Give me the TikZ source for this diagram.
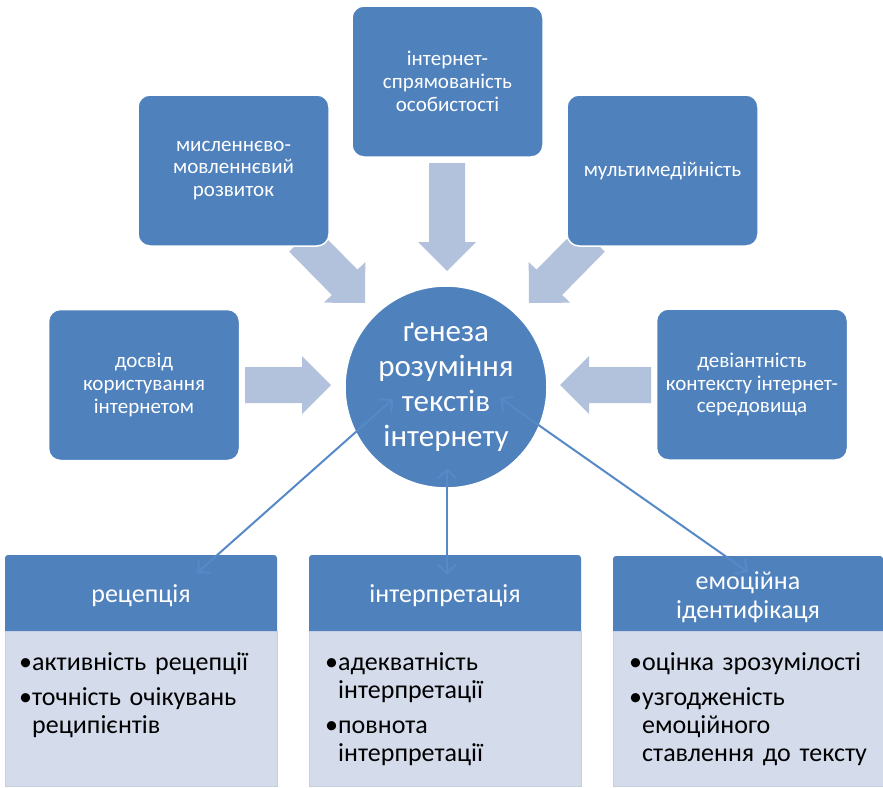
\documentclass[tikz,border=0pt]{standalone}
\usepackage{fontspec}
\setmainfont{Carlito}
\usetikzlibrary{calc,arrows.meta}
\definecolor{boxblue}{RGB}{79,129,189}
\definecolor{connblue}{RGB}{86,137,199}
\definecolor{arrowblue}{RGB}{179,194,220}
\definecolor{bodyfill}{RGB}{212,219,235}
\definecolor{bodyline}{RGB}{196,206,228}
\newcommand\blockarrow[2]{%
  \coordinate (#1hb) at ($(#2)!29pt!(#1)$);
  \fill[arrowblue] ($(#1)!18pt!90:(#2)$) -- ($(#1hb)!18pt!-90:(#1)$) -- ($(#1hb)!29pt!-90:(#1)$) -- (#2)
    -- ($(#1hb)!29pt!90:(#1)$) -- ($(#1hb)!18pt!90:(#1)$) -- ($(#1)!18pt!-90:(#2)$) -- cycle;}
\newcommand\bitem[1]{\par\hangindent=13pt\hangafter=1\noindent\makebox[13pt][l]{•}#1\par}
\begin{document}
\begin{tikzpicture}[x=1pt,y=-1pt,
  box/.style={rectangle, rounded corners=12pt, fill=boxblue, draw=white, line width=1.5pt,
    minimum width=191pt, minimum height=151pt, text=white, align=center, inner sep=0pt,
    font=\fontsize{21}{22.7}\selectfont},
  hub/.style={circle, fill=boxblue, draw=white, line width=1.5pt, minimum size=202pt, inner sep=0pt,
    text=white, align=center, font=\fontsize{31}{35}\selectfont},
  head/.style={rectangle, rounded corners=3pt, fill=boxblue, minimum height=82pt, inner sep=0pt,
    text=white, align=center, font=\fontsize{26}{29}\selectfont},
  bodybox/.style={rectangle, fill=bodyfill, draw=bodyline, line width=1pt, minimum height=155pt, inner sep=0pt},
  bodytext/.style={anchor=north west, inner sep=0pt, text width=252pt,
    font=\fontsize{26}{28}\selectfont\setlength{\parskip}{7pt}},
  conn/.style={draw=connblue, line width=2pt,
    arrows={Straight Barb[length=9pt,width=18pt]-Straight Barb[length=9pt,width=18pt]}}]
\useasboundingbox (0,0) rectangle (883,787);
\fill[white] (0,0) rectangle (883,787);
% block arrows
\coordinate (a1s) at (245,385); \coordinate (a1e) at (331,385);
\coordinate (a2s) at (302,239); \coordinate (a2e) at (365,303);
\coordinate (a3s) at (447,163); \coordinate (a3e) at (447,271);
\coordinate (a4s) at (592,239); \coordinate (a4e) at (529,303);
\coordinate (a5s) at (651,385); \coordinate (a5e) at (560,385);
\blockarrow{a1s}{a1e}
\blockarrow{a2s}{a2e}
\blockarrow{a3s}{a3e}
\blockarrow{a4s}{a4e}
\blockarrow{a5s}{a5e}
% boxes
\node[box] (exp) at (144,385) {досвід\\користування\\інтернетом};
\node[box] (think) at (233.5,170.5) {мисленнєво-\\мовленнєвий\\розвиток};
\node[box] (dir) at (447.5,81.5) {інтернет-\\спрямованість\\особистості};
\node[box] (multi) at (662.5,170.5) {мультимедійність};
\node[box] (dev) at (752,384.5) {девіантність\\контексту інтернет-\\середовища};
\node[hub] (hub) at (446,387) {ґенеза\\розуміння\\текстів\\інтернету};
% bottom lists
\node[head, minimum width=272pt] (h1) at (141,596) {рецепція};
\node[head, minimum width=272pt] (h2) at (445,596) {інтерпретація};
\node[head, minimum width=270pt] (h3) at (748,597) {емоційна\\ідентифікаця};
\node[bodybox, minimum width=272pt] (b1) at (141,708.5) {};
\node[bodybox, minimum width=272pt] (b2) at (445,708.5) {};
\node[bodybox, minimum width=270pt] (b3) at (748,708.5) {};
\node[bodytext] (t1) at (19,635) {\raggedright\bitem{активність рецепції}\bitem{точність очікувань\newline реципієнтів}};
\node[bodytext] (t2) at (325,635) {\raggedright\bitem{адекватність\newline інтерпретації}\bitem{повнота\newline інтерпретації}};
\node[bodytext] (t3) at (629,635) {\raggedright\bitem{оцінка зрозумілості}\bitem{узгодженість\newline емоційного\newline ставлення до тексту}};
% connectors
\coordinate (c1a) at (393,399); \coordinate (c1b) at (197,573);
\coordinate (c2a) at (447,468); \coordinate (c2b) at (447,575);
\coordinate (c3a) at (500,398); \coordinate (c3b) at (748,572);
\draw[conn] (c1a) -- (c1b);
\draw[conn] (c2a) -- (c2b);
\draw[conn] (c3a) -- (c3b);
\end{tikzpicture}
\end{document}
